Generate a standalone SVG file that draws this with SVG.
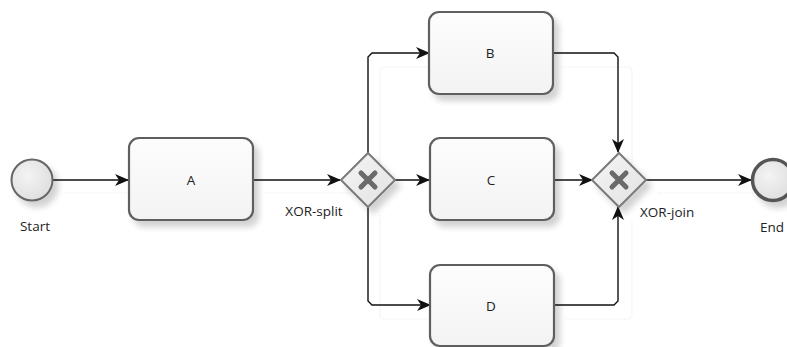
<svg xmlns="http://www.w3.org/2000/svg" width="787" height="347" viewBox="0 0 787 347">
<defs>
  <marker id="arr" markerWidth="14" markerHeight="12" refX="13" refY="6" orient="auto" markerUnits="userSpaceOnUse">
    <path d="M0,0 L14,6 L0,12 L4,6 Z" fill="#111"/>
  </marker>
  <linearGradient id="taskGrad" x1="0" y1="0" x2="0" y2="1">
    <stop offset="0" stop-color="#fdfdfd"/>
    <stop offset="1" stop-color="#f3f3f3"/>
  </linearGradient>
  <radialGradient id="evGrad" cx="0.4" cy="0.4" r="0.7">
    <stop offset="0" stop-color="#f4f4f4"/>
    <stop offset="1" stop-color="#dcdcdc"/>
  </radialGradient>
  <linearGradient id="gwGrad" x1="0" y1="0" x2="1" y2="1">
    <stop offset="0" stop-color="#f5f5f5"/>
    <stop offset="1" stop-color="#e2e2e2"/>
  </linearGradient>
  <filter id="shadow" x="-20%" y="-20%" width="150%" height="150%">
    <feGaussianBlur in="SourceAlpha" stdDeviation="3"/>
    <feOffset dx="5" dy="6" result="b"/>
    <feComponentTransfer><feFuncA type="linear" slope="0.18"/></feComponentTransfer>
    <feMerge><feMergeNode/><feMergeNode in="SourceGraphic"/></feMerge>
  </filter>
</defs>
<style>
  .task { fill: url(#taskGrad); stroke: #5f5f5f; stroke-width: 2.2; filter: url(#shadow); }
  .gw { fill: url(#gwGrad); stroke: #7a7a7a; stroke-width: 2; filter: url(#shadow); }
  .x { stroke: #6a6a6a; stroke-width: 5; stroke-linecap: round; }
  .ev { fill: url(#evGrad); stroke: #666; stroke-width: 2; filter: url(#shadow); }
  .evEnd { fill: url(#evGrad); stroke: #555; stroke-width: 3.5; filter: url(#shadow); }
  .lbl { font-family: "Open Sans", "DejaVu Sans", sans-serif; font-size: 13.5px; fill: #222; }
  .conn { fill: none; stroke: #111; stroke-width: 1.4; }
  .ghost { fill: none; stroke: #ececec; stroke-width: 1.2; stroke-dasharray: 1 1; }
</style>

<g id="ghosts">
  <path class="ghost" d="M64,193 H140"/>
  <path class="ghost" d="M265,193 H352"/>
  <path class="ghost" d="M380,165 V72 Q380,67 385,67 H441"/>
  <path class="ghost" d="M380,215 V315 Q380,319 385,319 H441"/>
  <path class="ghost" d="M564,67 H627 Q632,67 632,72 V165"/>
  <path class="ghost" d="M566,319 H627 Q632,319 632,315 V220"/>
  <path class="ghost" d="M658,193 H762"/>
</g>

<g id="connectors">
  <path class="conn" d="M53,180 H128" marker-end="url(#arr)"/>
  <path class="conn" d="M253,180 H340" marker-end="url(#arr)"/>
  <path class="conn" d="M368,153 V57 L372,53 H429" marker-end="url(#arr)"/>
  <path class="conn" d="M395,180 H429" marker-end="url(#arr)"/>
  <path class="conn" d="M368,207 V301 L372,305 H430" marker-end="url(#arr)"/>
  <path class="conn" d="M552,53 H614 L618,57 V152" marker-end="url(#arr)"/>
  <path class="conn" d="M554,180 H592" marker-end="url(#arr)"/>
  <path class="conn" d="M554,305 H614 L618,301 V207" marker-end="url(#arr)"/>
  <path class="conn" d="M646,180 H751" marker-end="url(#arr)"/>
</g>

<g id="start">
  <circle class="ev" cx="32" cy="180" r="20.5"/>
  <text class="lbl" x="35" y="231" text-anchor="middle">Start</text>
</g>

<g id="taskA">
  <rect class="task" x="129" y="138" width="124" height="82" rx="10"/>
  <text class="lbl" x="191" y="185" text-anchor="middle">A</text>
</g>

<g id="xorSplit">
  <path class="gw" d="M368,153 L395,180 L368,207 L341,180 Z"/>
  <path class="x" d="M361,173 L375,187 M375,173 L361,187"/>
  <text class="lbl" x="314" y="216" text-anchor="middle">XOR-split</text>
</g>

<g id="taskB">
  <rect class="task" x="429" y="12" width="124" height="82" rx="10"/>
  <text class="lbl" x="490" y="58" text-anchor="middle">B</text>
</g>

<g id="taskC">
  <rect class="task" x="430" y="138" width="124" height="82" rx="10"/>
  <text class="lbl" x="491" y="185" text-anchor="middle">C</text>
</g>

<g id="taskD">
  <rect class="task" x="430" y="265" width="124" height="81" rx="10"/>
  <text class="lbl" x="491" y="311" text-anchor="middle">D</text>
</g>

<g id="xorJoin">
  <path class="gw" d="M619,153 L646,180 L619,207 L592,180 Z"/>
  <path class="x" d="M612,173 L626,187 M626,173 L612,187"/>
  <text class="lbl" x="640" y="217">XOR-join</text>
</g>

<g id="end">
  <circle class="evEnd" cx="773" cy="180" r="20.5"/>
  <text class="lbl" x="760" y="232">End</text>
</g>
</svg>
